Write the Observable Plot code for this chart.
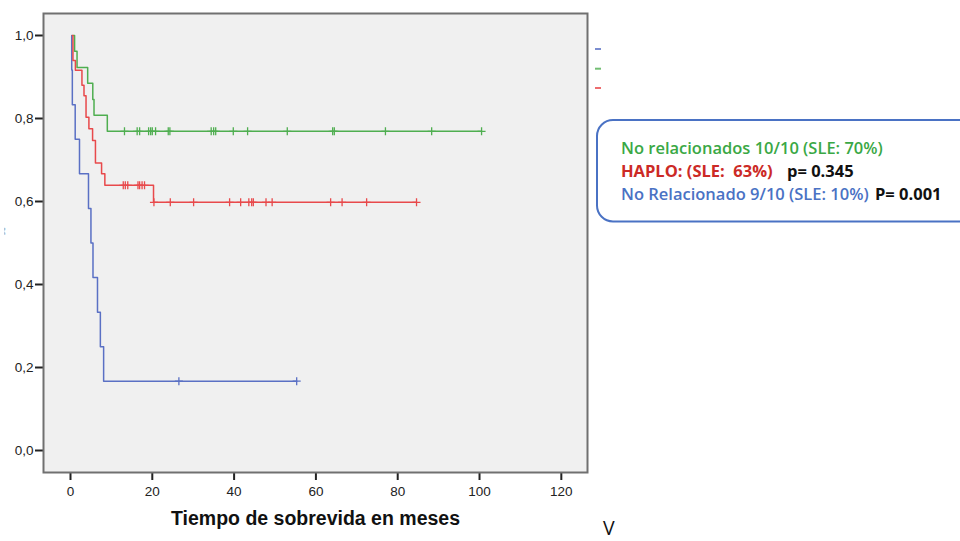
<!DOCTYPE html>
<html>
<head>
<meta charset="utf-8">
<script src="https://cdn.jsdelivr.net/npm/d3@7"></script>
<script src="https://cdn.jsdelivr.net/npm/@observablehq/plot@0.6"></script>
<style>
  body { margin: 0; background: #fff; }
  #wrap { position: relative; width: 960px; height: 541px; overflow: hidden; font-family: "Liberation Sans", Arial, sans-serif; }
  #overlay { position: absolute; left: 0; top: 0; pointer-events: none; }
</style>
</head>
<body>
<div id="wrap"></div>
<script>
// ---- data ----
const groupNames  = ["No Relacionado 9/10", "No relacionados 10/10", "HAPLO"];
const groupColors = ["#5a70c4", "#4fae50", "#e8494b"];

// Blue: No Relacionado 9/10
const blueStart = 0.3;
const blueEventTimes = [0.3, 0.45, 1.15, 2.2, 4.4, 5.0, 5.5, 6.6, 7.3, 8.1];
const blueEventSurv  = [0.917, 0.833, 0.75, 0.667, 0.583, 0.5, 0.417, 0.333, 0.25, 0.167];
const blueCensorTimes = [26.5, 55.3];

// Green: No relacionados 10/10
const greenStart = 0.6;
const greenEventTimes = [1.0, 1.6, 4.2, 5.45, 5.75, 9.0];
const greenEventSurv  = [0.962, 0.923, 0.885, 0.846, 0.808, 0.769];
const greenCensorTimes = [13.2, 16.3, 16.9, 19.1, 19.6, 20.0, 20.8, 23.9, 24.3, 34.4, 35.0, 35.5, 39.8, 43.3, 53.0, 64.1, 64.5, 77.0, 88.3, 100.5];

// Red: HAPLO
const redStart = 0.45;
const redEventTimes = [0.6, 1.2, 2.8, 3.3, 3.8, 4.5, 5.4, 6.1, 7.6, 8.4, 20.3];
const redEventSurv  = [0.94, 0.916, 0.88, 0.855, 0.803, 0.775, 0.747, 0.693, 0.667, 0.639, 0.598];
const redCensorTimes = [12.9, 13.4, 14.0, 16.5, 16.9, 17.5, 18.1, 20.4, 24.4, 30.1, 38.9, 41.6, 43.6, 44.3, 44.7, 47.8, 49.3, 63.6, 66.4, 72.4, 84.6];

const xTicks = [0, 20, 40, 60, 80, 100, 120];
const yTicks = [0, 0.2, 0.4, 0.6, 0.8, 1.0];
const xLabel = "Tiempo de sobrevida en meses";
const yLabel = "Supervivencia acumulada";

const legendLines = [
  {parts: [{text: "No relacionados 10/10 (SLE: 70%)", color: "#3aa845", weight: 600}]},
  {parts: [{text: "HAPLO: (SLE:  63%)", color: "#cc2a26", weight: 700}, {text: "p= 0.345", color: "#111", weight: 700, gap: true}]},
  {parts: [{text: "No Relacionado 9/10 (SLE: 10%)", color: "#4a72c4", weight: 600}, {text: "P= 0.001", color: "#111", weight: 700, gap: true}]}
];
const cornerText = "V";

// ---- build tables ----
const series = [
  {g: groupNames[0], start: blueStart, times: blueEventTimes, surv: blueEventSurv, cens: blueCensorTimes},
  {g: groupNames[1], start: greenStart, times: greenEventTimes, surv: greenEventSurv, cens: greenCensorTimes},
  {g: groupNames[2], start: redStart, times: redEventTimes, surv: redEventSurv, cens: redCensorTimes}
];
function survAt(s, t) {
  let v = 1;
  s.times.forEach((et, i) => { if (et <= t) v = s.surv[i]; });
  return v;
}
const lineData = [];
const censorData = [];
series.forEach(s => {
  lineData.push({g: s.g, t: s.start, s: 1});
  s.times.forEach((t, i) => lineData.push({g: s.g, t, s: s.surv[i]}));
  const end = Math.max(d3.max(s.cens), d3.max(s.times));
  lineData.push({g: s.g, t: end, s: s.surv[s.surv.length - 1]});
  s.cens.forEach(t => censorData.push({g: s.g, t, s: survAt(s, t)}));
});

const fmt = d => d.toFixed(1).replace(".", ",");

const chart = Plot.plot({
  width: 960,
  height: 541,
  marginLeft: 43,
  marginRight: 373,
  marginTop: 13,
  marginBottom: 69,
  style: {fontFamily: '"Liberation Sans", Arial, sans-serif', background: "transparent"},
  x: {domain: [-6.6, 126.4]},
  y: {domain: [-0.053, 1.053]},
  color: {domain: groupNames, range: groupColors},
  marks: [
    Plot.frame({fill: "#f0f0f0"}),
    Plot.axisX({ticks: xTicks, tickSize: 8, tickPadding: 6, fontSize: 13.5, label: null, strokeWidth: 2, color: "#222"}),
    Plot.axisY({ticks: yTicks, tickSize: 8, tickPadding: 2, fontSize: 13.5, label: null, strokeWidth: 2, color: "#222", tickFormat: fmt}),
    Plot.line(lineData, {x: "t", y: "s", z: "g", stroke: "g", curve: "step-after", strokeWidth: 1.5}),
    Plot.dot(censorData, {x: "t", y: "s", stroke: "g", symbol: "plus", r: 2.7, strokeWidth: 1.3}),
    Plot.text([xLabel], {frameAnchor: "bottom", dy: 46.5, lineAnchor: "middle", fontSize: 19.5, fontWeight: "bold", fill: "#111"}),
    Plot.frame({stroke: "#707070", strokeWidth: 2})
  ]
});
const wrap = document.getElementById("wrap");
wrap.appendChild(chart);

// ---- overlay: legend swatches, annotation box, cropped y label ----
const ov = d3.select(wrap).append("svg").attr("id", "overlay").attr("width", 960).attr("height", 541);

// cropped y label (only its lower edge is visible in the original)
ov.append("clipPath").attr("id", "ylclip").append("rect").attr("x", 3.2).attr("y", 0).attr("width", 10).attr("height", 541);
ov.append("text")
  .attr("clip-path", "url(#ylclip)")
  .attr("transform", "translate(4.6,238) rotate(-90)")
  .attr("text-anchor", "middle")
  .attr("font-size", 16).attr("font-weight", "bold").attr("fill", "#444")
  .text(yLabel);

// legend swatches
const swY = [49, 68.7, 88];
groupNames.forEach((g, i) => {
  ov.append("line").attr("x1", 595).attr("x2", 601).attr("y1", swY[i]).attr("y2", swY[i])
    .attr("stroke", groupColors[i]).attr("stroke-opacity", 0.8).attr("stroke-width", 2);
});

// annotation box
ov.append("rect").attr("x", 597).attr("y", 120).attr("width", 390).attr("height", 101.5).attr("rx", 16)
  .attr("fill", "none").attr("stroke", "#4a72c4").attr("stroke-width", 2);
const lineY = [153.5, 177, 200];
const gapX = [0, 787, 875];
legendLines.forEach((ln, i) => {
  ln.parts.forEach(p => {
    ov.append("text").attr("x", p.gap ? gapX[i] : 621).attr("y", lineY[i])
      .attr("font-family", '"Open Sans", sans-serif').attr("font-size", 16.5)
      .attr("font-weight", p.weight).attr("fill", p.color)
      .style("white-space", "pre").text(p.text);
  });
});

ov.append("text").attr("x", 603).attr("y", 534.5).attr("font-family", '"Open Sans", sans-serif')
  .attr("font-size", 19.5).attr("fill", "#111").text(cornerText);
</script>
</body>
</html>
